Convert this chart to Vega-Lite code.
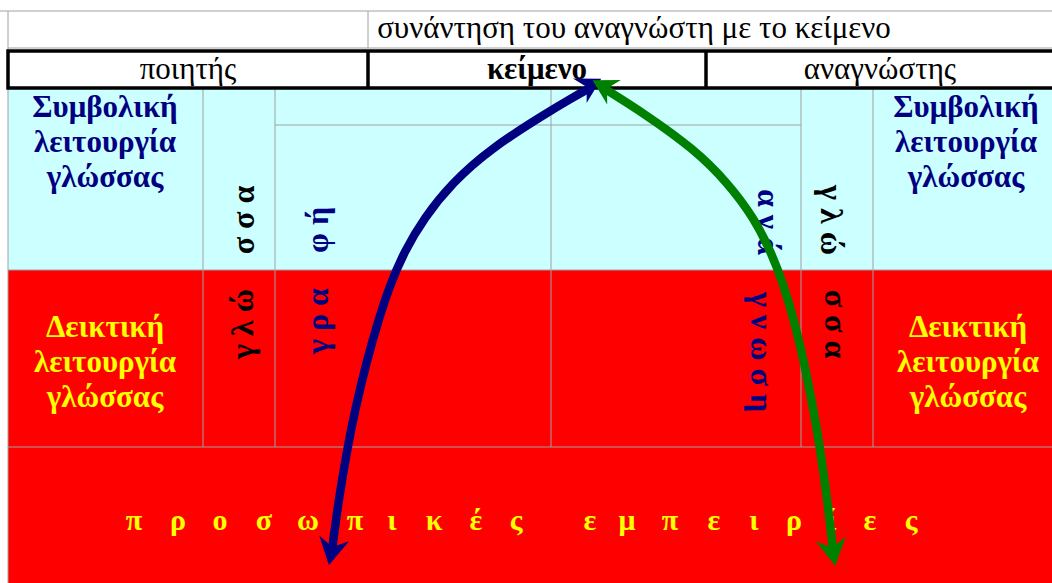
{
  "$schema": "https://vega.github.io/schema/vega-lite/v6.json",
  "width": 1052,
  "height": 583,
  "padding": 0,
  "autosize": {"type": "none"},
  "background": "white",
  "config": {"view": {"stroke": null}, "font": "Liberation Serif"},
  "datasets": {
    "zones": [
      {"zone": "sym", "x": 8, "x2": 1060, "y": 88, "y2": 270},
      {"zone": "deik", "x": 8, "x2": 1060, "y": 270, "y2": 590}
    ],
    "grid": [
      {"x": 0, "y": 11, "x2": 1060, "y2": 11},
      {"x": 8, "y": 48, "x2": 1060, "y2": 48},
      {"x": 8, "y": 11, "x2": 8, "y2": 590},
      {"x": 368, "y": 11, "x2": 368, "y2": 48},
      {"x": 203, "y": 88, "x2": 203, "y2": 447},
      {"x": 275, "y": 88, "x2": 275, "y2": 447},
      {"x": 551, "y": 88, "x2": 551, "y2": 447},
      {"x": 801, "y": 88, "x2": 801, "y2": 447},
      {"x": 873, "y": 88, "x2": 873, "y2": 447},
      {"x": 275, "y": 125, "x2": 801, "y2": 125},
      {"x": 8, "y": 270, "x2": 1060, "y2": 270},
      {"x": 8, "y": 447, "x2": 1060, "y2": 447}
    ],
    "box": [{"x": 8, "x2": 1062, "y": 51, "y2": 88}],
    "divs": [{"x": 368, "y": 51, "y2": 88}, {"x": 706, "y": 51, "y2": 88}],
    "hdr": [
      {"t": "συνάντηση του αναγνώστη με το κείμενο", "x": 634, "y": 29},
      {"t": "ποιητής", "x": 188, "y": 70},
      {"t": "αναγνώστης", "x": 880, "y": 70}
    ],
    "hdrb": [{"t": "κείμενο", "x": 537, "y": 70}],
    "side": [
      {"t": "Συμβολική\nλειτουργία\nγλώσσας", "x": 105, "y": 108, "k": "sym"},
      {"t": "Συμβολική\nλειτουργία\nγλώσσας", "x": 966, "y": 108, "k": "sym"},
      {"t": "Δεικτική\nλειτουργία\nγλώσσας", "x": 105, "y": 328, "k": "deik"},
      {"t": "Δεικτική\nλειτουργία\nγλώσσας", "x": 968, "y": 328, "k": "deik"}
    ],
    "vleft": [
      {"t": "γ λ ώ", "x": 243, "y": 324, "k": "gl"},
      {"t": "σ σ α", "x": 244, "y": 220, "k": "gl"},
      {"t": "γ ρ α", "x": 318, "y": 321, "k": "gr"},
      {"t": "φ ή", "x": 318, "y": 230, "k": "gr"}
    ],
    "vright": [
      {"t": "α ν ά", "x": 768, "y": 222, "k": "gr"},
      {"t": "γ ν ω σ η", "x": 761, "y": 352, "k": "gr"},
      {"t": "γ λ ώ", "x": 831, "y": 220, "k": "gl"},
      {"t": "σ σ α", "x": 835, "y": 324, "k": "gl"}
    ],
    "bottom": [
      {"t": "π", "x": 134}, {"t": "ρ", "x": 178}, {"t": "ο", "x": 220}, {"t": "σ", "x": 264},
      {"t": "ω", "x": 308}, {"t": "π", "x": 355}, {"t": "ι", "x": 392}, {"t": "κ", "x": 434},
      {"t": "έ", "x": 476}, {"t": "ς", "x": 516}, {"t": "ε", "x": 590}, {"t": "μ", "x": 627},
      {"t": "π", "x": 670}, {"t": "ε", "x": 714}, {"t": "ι", "x": 754}, {"t": "ρ", "x": 794},
      {"t": "ί", "x": 832}, {"t": "ε", "x": 870}, {"t": "ς", "x": 911}
    ],
    "arrows": [
      {"a": "poet", "i": 0, "x": 332, "y": 550},
      {"a": "poet", "i": 1, "x": 338.6, "y": 500},
      {"a": "poet", "i": 2, "x": 347.6, "y": 447},
      {"a": "poet", "i": 3, "x": 355, "y": 410},
      {"a": "poet", "i": 4, "x": 367, "y": 360},
      {"a": "poet", "i": 5, "x": 378.5, "y": 320},
      {"a": "poet", "i": 6, "x": 390, "y": 285},
      {"a": "poet", "i": 7, "x": 404, "y": 252},
      {"a": "poet", "i": 8, "x": 424, "y": 218},
      {"a": "poet", "i": 9, "x": 452, "y": 183},
      {"a": "poet", "i": 10, "x": 490, "y": 149},
      {"a": "poet", "i": 11, "x": 545, "y": 114},
      {"a": "poet", "i": 12, "x": 572, "y": 98},
      {"a": "poet", "i": 13, "x": 588, "y": 89},
      {"a": "reader", "i": 0, "x": 605, "y": 89},
      {"a": "reader", "i": 1, "x": 645, "y": 114},
      {"a": "reader", "i": 2, "x": 694, "y": 149},
      {"a": "reader", "i": 3, "x": 728, "y": 183},
      {"a": "reader", "i": 4, "x": 754, "y": 218},
      {"a": "reader", "i": 5, "x": 771, "y": 252},
      {"a": "reader", "i": 6, "x": 783, "y": 283},
      {"a": "reader", "i": 7, "x": 794, "y": 320},
      {"a": "reader", "i": 8, "x": 803.6, "y": 360},
      {"a": "reader", "i": 9, "x": 813.6, "y": 410},
      {"a": "reader", "i": 10, "x": 819.7, "y": 446},
      {"a": "reader", "i": 11, "x": 827.3, "y": 500},
      {"a": "reader", "i": 12, "x": 833, "y": 550}
    ],
    "headsTop": [
      {"a": "poet", "x": 590.5, "y": 84.8, "ang": 61},
      {"a": "reader", "x": 603.3, "y": 86.3, "ang": 299}
    ],
    "headsBottom": [
      {"a": "poet", "x": 331.5, "y": 551.8, "ang": 191},
      {"a": "reader", "x": 833, "y": 552.5, "ang": 171}
    ]
  },
  "resolve": {"scale": {"color": "independent"}},
  "layer": [
    {
      "data": {"name": "zones"},
      "mark": {"type": "rect"},
      "encoding": {
        "x": {"field": "x", "type": "quantitative", "scale": {"domain": [0, 1052], "nice": false, "zero": false}, "axis": null},
        "x2": {"field": "x2"},
        "y": {"field": "y", "type": "quantitative", "scale": {"domain": [0, 583], "nice": false, "zero": false, "reverse": true}, "axis": null},
        "y2": {"field": "y2"},
        "color": {"field": "zone", "type": "nominal", "scale": {"domain": ["sym", "deik"], "range": ["#CCFFFF", "#FF0000"]}, "legend": null}
      }
    },
    {
      "data": {"name": "grid"},
      "mark": {"type": "rule", "color": "#a0a0a0", "strokeWidth": 1},
      "encoding": {
        "x": {"field": "x", "type": "quantitative"},
        "x2": {"field": "x2"},
        "y": {"field": "y", "type": "quantitative"},
        "y2": {"field": "y2"}
      }
    },
    {
      "data": {"name": "box"},
      "mark": {"type": "rect", "fill": "white", "stroke": "black", "strokeWidth": 3.5},
      "encoding": {
        "x": {"field": "x", "type": "quantitative"},
        "x2": {"field": "x2"},
        "y": {"field": "y", "type": "quantitative"},
        "y2": {"field": "y2"}
      }
    },
    {
      "data": {"name": "divs"},
      "mark": {"type": "rule", "color": "black", "strokeWidth": 3.5},
      "encoding": {
        "x": {"field": "x", "type": "quantitative"},
        "y": {"field": "y", "type": "quantitative"},
        "y2": {"field": "y2"}
      }
    },
    {
      "data": {"name": "hdr"},
      "mark": {"type": "text", "font": "Liberation Serif", "fontSize": 31, "color": "black", "align": "center", "baseline": "middle"},
      "encoding": {
        "x": {"field": "x", "type": "quantitative"},
        "y": {"field": "y", "type": "quantitative"},
        "text": {"field": "t"}
      }
    },
    {
      "data": {"name": "hdrb"},
      "mark": {"type": "text", "font": "Liberation Serif", "fontSize": 31, "fontWeight": "bold", "color": "black", "align": "center", "baseline": "middle"},
      "encoding": {
        "x": {"field": "x", "type": "quantitative"},
        "y": {"field": "y", "type": "quantitative"},
        "text": {"field": "t"}
      }
    },
    {
      "data": {"name": "side"},
      "mark": {"type": "text", "font": "Liberation Serif", "fontSize": 31, "fontWeight": "bold", "align": "center", "baseline": "middle", "lineBreak": "\n", "lineHeight": 35},
      "encoding": {
        "x": {"field": "x", "type": "quantitative"},
        "y": {"field": "y", "type": "quantitative"},
        "text": {"field": "t"},
        "color": {"field": "k", "type": "nominal", "scale": {"domain": ["sym", "deik"], "range": ["#000080", "#FFFF00"]}, "legend": null}
      }
    },
    {
      "data": {"name": "vleft"},
      "mark": {"type": "text", "font": "Liberation Serif", "fontSize": 32, "fontWeight": "bold", "align": "center", "baseline": "middle", "angle": 270},
      "encoding": {
        "x": {"field": "x", "type": "quantitative"},
        "y": {"field": "y", "type": "quantitative"},
        "text": {"field": "t"},
        "color": {"field": "k", "type": "nominal", "scale": {"domain": ["gl", "gr"], "range": ["#000000", "#000080"]}, "legend": null}
      }
    },
    {
      "data": {"name": "vright"},
      "mark": {"type": "text", "font": "Liberation Serif", "fontSize": 32, "fontWeight": "bold", "align": "center", "baseline": "middle", "angle": 90},
      "encoding": {
        "x": {"field": "x", "type": "quantitative"},
        "y": {"field": "y", "type": "quantitative"},
        "text": {"field": "t"},
        "color": {"field": "k", "type": "nominal", "scale": {"domain": ["gl", "gr"], "range": ["#000000", "#000080"]}, "legend": null}
      }
    },
    {
      "data": {"name": "bottom"},
      "mark": {"type": "text", "font": "Liberation Serif", "fontSize": 30, "fontWeight": "bold", "color": "#FFFF00", "align": "center", "baseline": "middle", "y": 521},
      "encoding": {
        "x": {"field": "x", "type": "quantitative"},
        "text": {"field": "t"}
      }
    },
    {
      "data": {"name": "arrows"},
      "mark": {"type": "line", "strokeWidth": 8.5, "interpolate": "basis", "strokeCap": "butt"},
      "encoding": {
        "x": {"field": "x", "type": "quantitative"},
        "y": {"field": "y", "type": "quantitative"},
        "order": {"field": "i", "type": "quantitative"},
        "color": {"field": "a", "type": "nominal", "scale": {"domain": ["poet", "reader"], "range": ["#000080", "#008000"]}, "legend": null}
      }
    },
    {
      "data": {"name": "headsTop"},
      "mark": {"type": "point", "filled": true, "opacity": 1, "size": 600, "strokeWidth": 0, "shape": "M0,-1L1.15,1L0,0.35L-1.15,1Z"},
      "encoding": {
        "x": {"field": "x", "type": "quantitative"},
        "y": {"field": "y", "type": "quantitative"},
        "angle": {"field": "ang", "type": "quantitative", "scale": null},
        "color": {"field": "a", "type": "nominal", "scale": {"domain": ["poet", "reader"], "range": ["#000080", "#008000"]}, "legend": null}
      }
    },
    {
      "data": {"name": "headsBottom"},
      "mark": {"type": "point", "filled": true, "opacity": 1, "size": 760, "strokeWidth": 0, "shape": "M0,-1L1.1,1L0,0.35L-1.1,1Z"},
      "encoding": {
        "x": {"field": "x", "type": "quantitative"},
        "y": {"field": "y", "type": "quantitative"},
        "angle": {"field": "ang", "type": "quantitative", "scale": null},
        "color": {"field": "a", "type": "nominal", "scale": {"domain": ["poet", "reader"], "range": ["#000080", "#008000"]}, "legend": null}
      }
    }
  ]
}
